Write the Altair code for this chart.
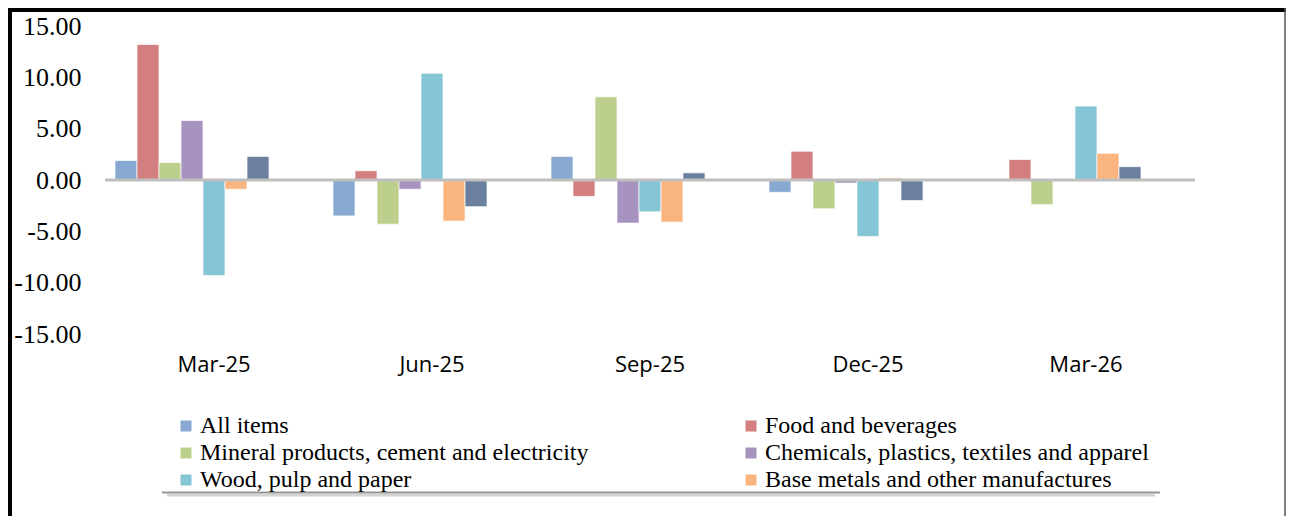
import altair as alt
import pandas as pd

quarters = ["Mar-25", "Jun-25", "Sep-25", "Dec-25", "Mar-26"]

series = [
    "All items",
    "Food and beverages",
    "Mineral products, cement and electricity",
    "Chemicals, plastics, textiles and apparel",
    "Wood, pulp and paper",
    "Base metals and other manufactures",
    "Series 7",
]
hidden_slots = ["Series 8", "Series 9"]
# legend is filled column by column: left column first, then right column
legend_series = [series[0], series[2], series[4], series[1], series[3], series[5]]

all_items = [1.9, -3.5, 2.3, -1.2, 0.0]
food_bev = [13.2, 0.9, -1.6, 2.8, 2.0]
mineral = [1.7, -4.3, 8.1, -2.8, -2.4]
chemicals = [5.8, -0.9, -4.2, -0.3, 0.0]
wood = [-9.3, 10.4, -3.1, -5.5, 7.2]
base_metals = [-0.9, -4.0, -4.1, 0.2, 2.6]
series7 = [2.3, -2.6, 0.7, -2.0, 1.3]

y_ticks = [-15, -10, -5, 0, 5, 10, 15]

colors = ["#86A8D1", "#D47F7F", "#BDCF8C", "#A693BF", "#84C5D6", "#F9B57D", "#6A809E"]

values_by_series = [all_items, food_bev, mineral, chemicals, wood, base_metals, series7]
rows = []
for s, vals in zip(series, values_by_series):
    for q, v in zip(quarters, vals):
        rows.append({"quarter": q, "series": s, "value": v})
df = pd.DataFrame(rows)

slots = series + hidden_slots

bars = alt.Chart(df).mark_bar(stroke="white", strokeWidth=1, strokeOpacity=0.7).encode(
    x=alt.X(
        "quarter:N",
        sort=quarters,
        scale=alt.Scale(paddingInner=0.0917, paddingOuter=0.0459),
        axis=alt.Axis(
            title=None, domain=False, ticks=False, labelAngle=0,
            labelFont="Open Sans", labelFontSize=22, labelColor="black",
            labelPadding=20,
        ),
    ),
    xOffset=alt.XOffset(
        "series:N",
        scale=alt.Scale(domain=slots, paddingInner=0, paddingOuter=0),
    ),
    y=alt.Y(
        "value:Q",
        scale=alt.Scale(domain=[-15, 15], nice=False),
        axis=alt.Axis(
            title=None, values=y_ticks, grid=False, domain=False, ticks=False,
            labelExpr="(datum.value < 0 ? '-' : '') + format(abs(datum.value), '.2f')",
            labelFont="Liberation Serif", labelFontSize=26, labelColor="black",
            labelPadding=24,
        ),
    ),
    color=alt.Color(
        "series:N",
        scale=alt.Scale(domain=series, range=colors),
        legend=alt.Legend(
            title=None, orient="none", legendX=69, legendY=388, columns=2,
            columnPadding=150, rowPadding=3, symbolType="square", symbolSize=121,
            symbolStrokeWidth=0, symbolOpacity=1, labelFont="Liberation Serif",
            labelFontSize=24, labelColor="black", labelOffset=2,
            values=legend_series, labelLimit=600, padding=0,
        ),
    ),
)

zero_line = alt.Chart(pd.DataFrame({"y": [0]})).mark_rule(
    color="#BFBFBF", strokeWidth=3
).encode(y="y:Q")

one = pd.DataFrame({"a": [0]})
frame_left = alt.Chart(one).mark_rule(color="black", strokeWidth=4).encode(
    x=alt.value(-95), y=alt.value(-18), y2=alt.value(490)
)
frame_top = alt.Chart(one).mark_rule(color="black", strokeWidth=4).encode(
    x=alt.value(-97), x2=alt.value(1181), y=alt.value(-16)
)
frame_right = alt.Chart(one).mark_rule(color="#555555", strokeWidth=1.5).encode(
    x=alt.value(1180), y=alt.value(-18), y2=alt.value(490)
)
shadow1 = alt.Chart(one).mark_rule(color="#7a7a7a", strokeWidth=2, opacity=0.8).encode(
    x=alt.value(57), x2=alt.value(1055), y=alt.value(466.5)
)
shadow2 = alt.Chart(one).mark_rule(color="#b5b5b5", strokeWidth=3, opacity=0.6).encode(
    x=alt.value(62), x2=alt.value(1050), y=alt.value(469)
)

chart = alt.layer(
    bars, zero_line, frame_left, frame_top, frame_right, shadow1, shadow2
).properties(
    width=1090,
    height=308,
    autosize=alt.AutoSizeParams(type="none"),
    padding={"left": 97, "top": 18, "right": 91, "bottom": 182},
).configure_view(stroke=None)

chart.save("out.html", embed_options={"renderer": "svg", "actions": False})
